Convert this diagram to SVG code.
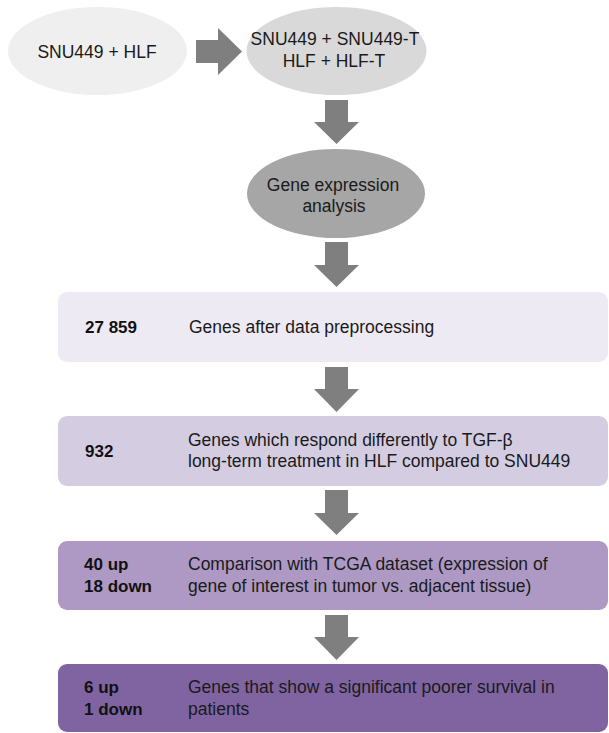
<svg xmlns="http://www.w3.org/2000/svg" width="609" height="733" viewBox="0 0 609 733">
<style>
  text { font-family: "Liberation Sans", Arial, sans-serif; font-size: 17.5px; fill: #1a1a1a; }
  .c { text-anchor: middle; }
  .b { font-weight: bold; font-size: 17px; fill: #111; }
  .arrow { fill: #7f7f7f; }
</style>
<rect width="609" height="733" fill="#ffffff"/>
<g id="node-start">
  <ellipse cx="97.5" cy="51" rx="89.5" ry="44" fill="#efefef"/>
  <text class="c" x="97" y="58">SNU449 + HLF</text>
</g>
<g id="node-treated">
  <ellipse cx="336.5" cy="51" rx="90" ry="44" fill="#d9d9d9"/>
  <text class="c" x="335" y="44.5">SNU449 + SNU449-T</text>
  <text class="c" x="334" y="66.5">HLF + HLF-T</text>
</g>
<g id="node-analysis">
  <ellipse cx="336" cy="193.5" rx="89" ry="44.5" fill="#a6a6a6"/>
  <text class="c" x="333" y="191">Gene expression</text>
  <text class="c" x="334" y="212">analysis</text>
</g>
<g id="node-preprocessing">
  <rect x="58" y="292" width="550" height="70" rx="9" fill="#eeeaf3"/>
  <text class="b" x="85" y="333">27 859</text>
  <text x="189" y="333">Genes after data preprocessing</text>
</g>
<g id="node-respond">
  <rect x="58" y="416" width="550" height="70" rx="9" fill="#d4cde2"/>
  <text class="b" x="85" y="457">932</text>
  <text x="188" y="445.5">Genes which respond differently to TGF-β</text>
  <text x="188" y="467">long-term treatment in HLF compared to SNU449</text>
</g>
<g id="node-tcga">
  <rect x="58" y="541" width="550" height="69" rx="9" fill="#ad99c4"/>
  <text class="b" x="84" y="570">40 up</text>
  <text class="b" x="84" y="591.5">18 down</text>
  <text x="188" y="570">Comparison with TCGA dataset (expression of</text>
  <text x="188" y="591.5">gene of interest in tumor vs. adjacent tissue)</text>
</g>
<g id="node-survival">
  <rect x="58" y="664" width="550" height="68" rx="9" fill="#8064a2"/>
  <text class="b" x="84" y="693">6 up</text>
  <text class="b" x="84" y="715">1 down</text>
  <text x="188" y="693">Genes that show a significant poorer survival in</text>
  <text x="188" y="715">patients</text>
</g>
<g id="connectors">
  <polygon class="arrow" points="196,40 218,40 218,28 242,51.5 218,75 218,63 196,63"/>
  <polygon class="arrow" points="325,100 348,100 348,122 359,122 336.5,144 314,122 325,122"/>
  <polygon class="arrow" points="325,242 348,242 348,265 359,265 336.5,287 314,265 325,265"/>
  <polygon class="arrow" points="325,367 348,367 348,389 359,389 336.5,412 314,389 325,389"/>
  <polygon class="arrow" points="325,490 348,490 348,513 359,513 336.5,535 314,513 325,513"/>
  <polygon class="arrow" points="325,615 348,615 348,637 359,637 336.5,660 314,637 325,637"/>
</g>
</svg>
